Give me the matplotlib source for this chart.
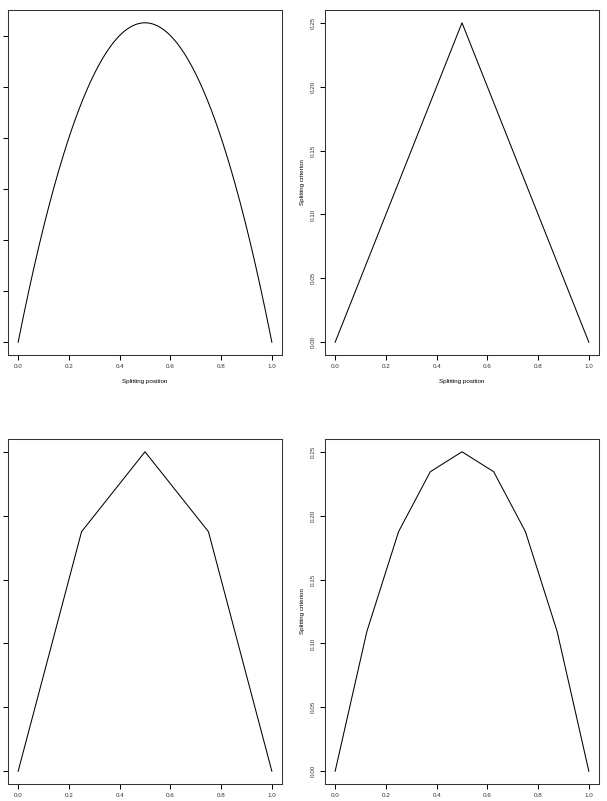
import numpy as np
import matplotlib
matplotlib.use("Agg")
import matplotlib.pyplot as plt

plt.rcParams['font.family'] = ['Liberation Sans', 'DejaVu Sans']

# Panel data
x_smooth = np.linspace(0, 1, 201)
y_smooth = x_smooth * (1 - x_smooth)

x_2 = [0.0, 0.5, 1.0]
y_2 = [0.0, 0.25, 0.0]

x_4 = [0.0, 0.25, 0.5, 0.75, 1.0]
y_4 = [0.0, 0.1875, 0.25, 0.1875, 0.0]

x_8 = [0.0, 0.125, 0.25, 0.375, 0.5, 0.625, 0.75, 0.875, 1.0]
y_8 = [0.0, 0.109375, 0.1875, 0.234375, 0.25, 0.234375, 0.1875, 0.109375, 0.0]

x_ticks = [0.0, 0.2, 0.4, 0.6, 0.8, 1.0]
x_ticklabels = ["0.0", "0.2", "0.4", "0.6", "0.8", "1.0"]
y_ticks = [0.00, 0.05, 0.10, 0.15, 0.20, 0.25]
y_ticklabels = ["0.00", "0.05", "0.10", "0.15", "0.20", "0.25"]
y_ticks_first = [0.00, 0.04, 0.08, 0.12, 0.16, 0.20, 0.24]

W, H = 607, 801
fig = plt.figure(figsize=(W / 100, H / 100), dpi=100)

def rect(l, r, t, b):
    return [l / W, 1 - b / H, (r - l) / W, (b - t) / H]

fs = 4.5
lw = 0.75

panels = [
    (rect(8, 282, 10, 355), x_smooth, y_smooth, y_ticks_first, False, True),
    (rect(325, 599, 10, 355), x_2, y_2, y_ticks, True, True),
    (rect(8, 282, 439, 784), x_4, y_4, y_ticks, False, False),
    (rect(325, 599, 439, 784), x_8, y_8, y_ticks, True, False),
]

for pos, xs, ys, yt, show_y, show_xlab in panels:
    ax = fig.add_axes(pos)
    ax.plot(xs, ys, color='black', lw=lw)
    ax.set_xlim(-0.04, 1.04)
    ax.set_ylim(-0.01, 0.26)
    ax.set_xticks(x_ticks)
    ax.set_xticklabels(x_ticklabels, fontsize=fs, color='#333333')
    ax.set_yticks(yt)
    if show_y:
        ax.set_yticklabels(y_ticklabels, fontsize=fs, rotation=90, va='center',
                           color='#333333')
        ax.set_ylabel("Splitting criterion", fontsize=fs, labelpad=4)
    else:
        ax.set_yticklabels([])
    if show_xlab:
        ax.set_xlabel("Splitting position", fontsize=fs, labelpad=7)
    ax.tick_params(direction='out', length=3.6, width=lw, pad=3)
    for s in ax.spines.values():
        s.set_linewidth(lw)
        s.set_color('#333333')

fig.savefig("out.png", dpi=100)
